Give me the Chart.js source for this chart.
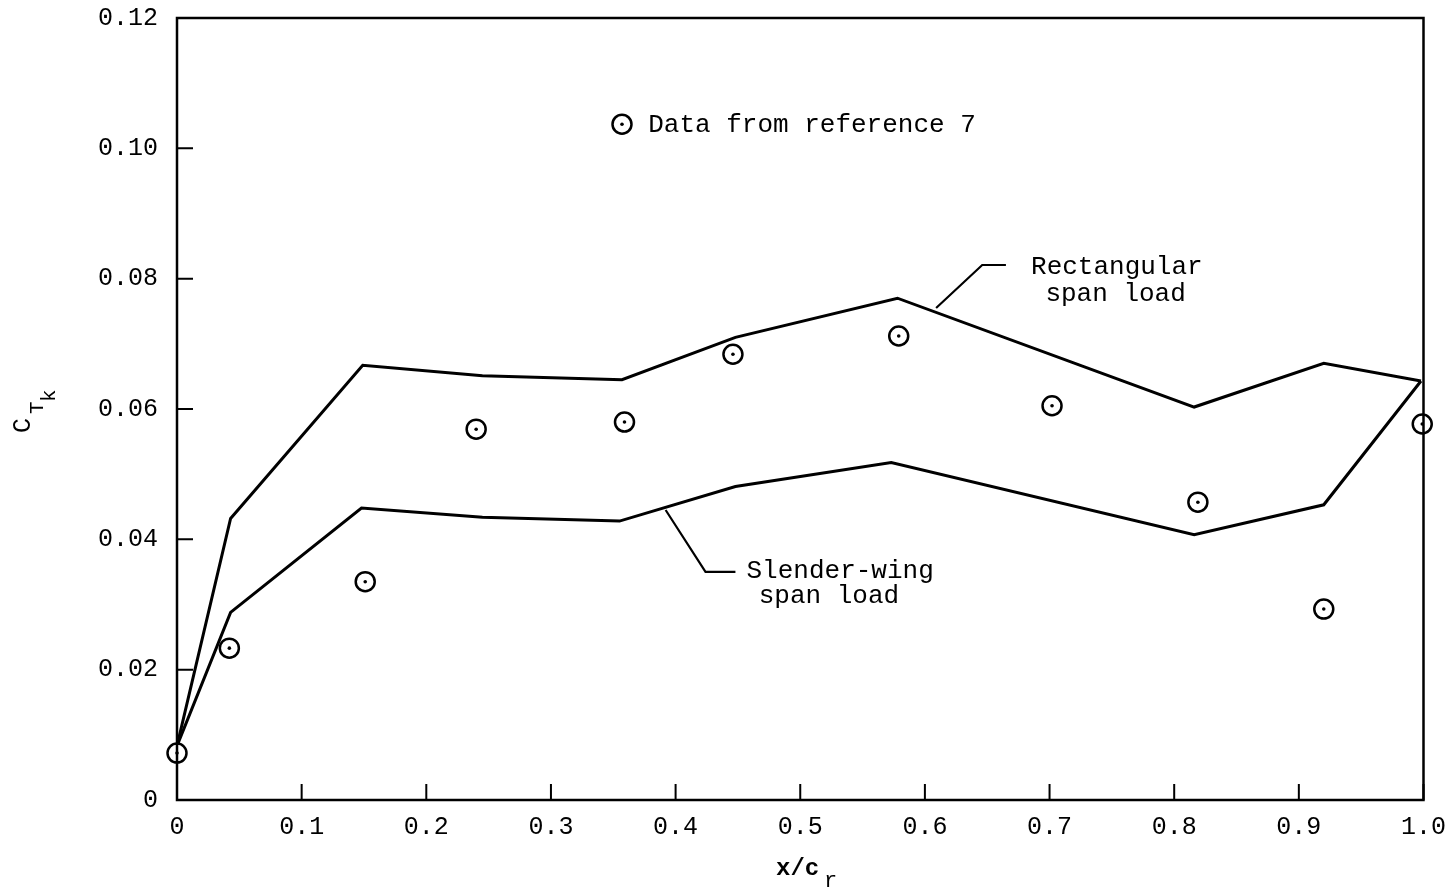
<!DOCTYPE html>
<html>
<head>
<meta charset="utf-8">
<script src="https://cdn.jsdelivr.net/npm/chart.js@4.4.1/dist/chart.umd.min.js"></script>
<style>
html,body{margin:0;padding:0;background:#fff;}
#wrap{width:1450px;height:892px;position:relative;}
</style>
</head>
<body>
<div id="wrap"><canvas id="c" width="1450" height="892"></canvas></div>
<script>
// Rectangular span load curve
const rectX = [0, 0.043, 0.149, 0.245, 0.357, 0.448, 0.578, 0.816, 0.920, 0.998];
const rectY = [0.0083, 0.0432, 0.0667, 0.0651, 0.0645, 0.0710, 0.0770, 0.0603, 0.0670, 0.0643];
// Slender-wing span load curve
const slenderX = [0, 0.043, 0.148, 0.245, 0.355, 0.448, 0.573, 0.816, 0.920, 0.998];
const slenderY = [0.0083, 0.0288, 0.0448, 0.0434, 0.0428, 0.0481, 0.0518, 0.0407, 0.0453, 0.0643];
// Data from reference 7
const dataX = [0, 0.042, 0.151, 0.240, 0.359, 0.446, 0.579, 0.702, 0.819, 0.920, 0.999];
const dataY = [0.0072, 0.0233, 0.0335, 0.0569, 0.0580, 0.0684, 0.0712, 0.0605, 0.0457, 0.0293, 0.0577];
// Tick labels
const xTickLabels = ['0','0.1','0.2','0.3','0.4','0.5','0.6','0.7','0.8','0.9','1.0'];
const yTickLabels = ['0','0.02','0.04','0.06','0.08','0.10','0.12'];

const pts = (xs, ys) => xs.map((x, i) => ({x: x, y: ys[i]}));
const FONT = '"Liberation Mono", "DejaVu Sans Mono", monospace';

const framePlugin = {
  id: 'frame',
  afterDraw(chart) {
    const ctx = chart.ctx, a = chart.chartArea;
    const xs = chart.scales.x, ys = chart.scales.y;
    ctx.save();
    ctx.strokeStyle = '#000';
    ctx.lineWidth = 2.5;
    ctx.strokeRect(a.left, a.top, a.right - a.left, a.bottom - a.top);
    ctx.lineWidth = 2;
    ctx.beginPath();
    xTickLabels.forEach((t, i) => {
      const px = xs.getPixelForValue(i / 10);
      ctx.moveTo(px, a.bottom); ctx.lineTo(px, a.bottom - 16);
    });
    yTickLabels.forEach((t, i) => {
      const py = ys.getPixelForValue(i * 0.02);
      ctx.moveTo(a.left, py); ctx.lineTo(a.left + 16, py);
    });
    ctx.stroke();

    ctx.fillStyle = '#000';
    // y axis title  C_{T_k}
    ctx.save();
    ctx.translate(30, 433);
    ctx.rotate(-Math.PI / 2);
    ctx.textBaseline = 'alphabetic';
    ctx.textAlign = 'left';
    ctx.font = '25px ' + FONT;
    ctx.fillText('C', 0, 0);
    ctx.font = '21px ' + FONT;
    ctx.fillText('T', 19, 13);
    ctx.fillText('k', 31, 25);
    ctx.restore();

    // x axis title x/c_r
    ctx.font = 'bold 24px ' + FONT;
    ctx.textAlign = 'left';
    ctx.textBaseline = 'alphabetic';
    ctx.fillText('x/c', 776, 875);
    ctx.font = '22px ' + FONT;
    ctx.fillText('r', 824, 887);

    // annotations
    const P = (x, y) => [xs.getPixelForValue(x), ys.getPixelForValue(y)];
    ctx.font = '26px ' + FONT;
    ctx.textBaseline = 'middle';
    // legend entry
    let [lx, ly] = P(0.357, 0.1037);
    ctx.lineWidth = 2.5;
    ctx.beginPath(); ctx.arc(lx, ly, 9.5, 0, Math.PI * 2); ctx.stroke();
    ctx.beginPath(); ctx.arc(lx, ly, 1.8, 0, Math.PI * 2); ctx.fill();
    let [tx, ty] = P(0.378, 0.1037);
    ctx.textAlign = 'left';
    ctx.fillText('Data from reference 7', tx, ty + 1);

    // Rectangular leader
    ctx.lineWidth = 2.2;
    ctx.beginPath();
    let p1 = P(0.609, 0.0755), p2 = P(0.646, 0.0821), p3 = P(0.665, 0.0821);
    ctx.moveTo(p1[0], p1[1]); ctx.lineTo(p2[0], p2[1]); ctx.lineTo(p3[0], p3[1]);
    ctx.stroke();
    ctx.textAlign = 'center';
    let r1 = P(0.754, 0.0818), r2 = P(0.753, 0.0777);
    ctx.fillText('Rectangular', r1[0], r1[1]);
    ctx.fillText('span load', r2[0], r2[1]);

    // Slender leader
    ctx.beginPath();
    p1 = P(0.392, 0.0445); p2 = P(0.424, 0.0350); p3 = P(0.448, 0.0350);
    ctx.moveTo(p1[0], p1[1]); ctx.lineTo(p2[0], p2[1]); ctx.lineTo(p3[0], p3[1]);
    ctx.stroke();
    let s1 = P(0.532, 0.0351), s2 = P(0.523, 0.0313);
    ctx.fillText('Slender-wing', s1[0], s1[1]);
    ctx.fillText('span load', s2[0], s2[1]);
    ctx.restore();
  }
};

new Chart(document.getElementById('c'), {
  type: 'scatter',
  data: {
    datasets: [
      {
        label: 'Rectangular span load',
        data: pts(rectX, rectY), order: 2,
        showLine: true, borderColor: '#000', borderWidth: 3,
        pointRadius: 0, fill: false, tension: 0, clip: false
      },
      {
        label: 'Slender-wing span load',
        data: pts(slenderX, slenderY), order: 2,
        showLine: true, borderColor: '#000', borderWidth: 3,
        pointRadius: 0, fill: false, tension: 0, clip: false
      },
      {
        label: 'Data from reference 7',
        data: pts(dataX, dataY), order: 1,
        showLine: false, pointStyle: 'circle', pointRadius: 9.5,
        pointBorderWidth: 2.5, pointBorderColor: '#000', pointBackgroundColor: '#fff',
        clip: false
      },
      {
        label: 'centre dots',
        data: pts(dataX, dataY), order: 0,
        showLine: false, pointStyle: 'circle', pointRadius: 1.8,
        pointBorderWidth: 0, pointBackgroundColor: '#000', clip: false
      }
    ]
  },
  options: {
    responsive: false,
    animation: false,
    events: [],
    layout: { padding: { top: 18, right: 23, left: 0, bottom: 0 } },
    plugins: { legend: { display: false }, tooltip: { enabled: false } },
    scales: {
      x: {
        type: 'linear', min: 0, max: 1,
        afterFit: s => { s.height = 92; },
        afterBuildTicks: s => { s.ticks = xTickLabels.map((t, i) => ({value: i / 10})); },
        grid: { display: false },
        border: { display: false },
        ticks: {
          color: '#000', padding: 4, maxRotation: 0, autoSkip: false,
          font: { family: FONT, size: 25 },
          callback: (v, i) => xTickLabels[i]
        }
      },
      y: {
        type: 'linear', min: 0, max: 0.12,
        afterFit: s => { s.width = 177; },
        afterBuildTicks: s => { s.ticks = yTickLabels.map((t, i) => ({value: i * 0.02})); },
        grid: { display: false },
        border: { display: false },
        ticks: {
          color: '#000', padding: 11, autoSkip: false,
          font: { family: FONT, size: 25, lineHeight: 0.4 },
          callback: (v, i) => yTickLabels[i]
        }
      }
    }
  },
  plugins: [framePlugin]
});
</script>
</body>
</html>
